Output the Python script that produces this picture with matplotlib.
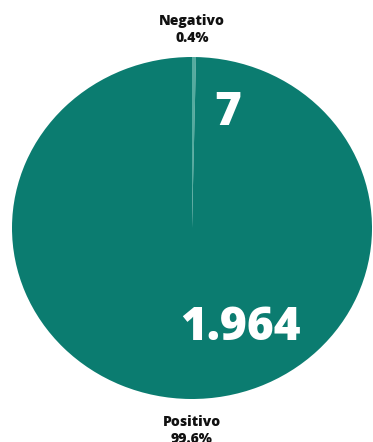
import matplotlib.pyplot as plt

labels = ["Negativo", "Positivo"]
counts = [7, 1964]
count_text = ["7", "1.964"]
colors = ["#55ab9f", "#0b7c70"]

total = sum(counts)
pcts = [c / total * 100 for c in counts]

fig = plt.figure(figsize=(3.73, 4.42), dpi=100)
ax = fig.add_axes([0, 0, 1, 1])

# pie is a bit stretched sideways in the reference: 180 px wide radius, 171 px tall
ax.pie(counts, colors=colors, startangle=90, counterclock=False,
       radius=1, wedgeprops={"linewidth": 0})
ax.set_aspect("auto")
ax.set_xlim(-192 / 180, (373 - 192) / 180)
ax.set_ylim(-(442 - 228) / 171, 228 / 171)
ax.axis("off")

font = "Open Sans"
# category labels outside the pie
ax.text(0, 1.161, "{}\n{}%".format(labels[0], str(round(pcts[0], 1))),
        ha="center", va="center", fontsize=10, fontweight="heavy",
        family=font, color="#111111", linespacing=1.3)
ax.text(0, -1.185, "{}\n{}%".format(labels[1], str(round(pcts[1], 1))),
        ha="center", va="center", fontsize=10, fontweight="heavy",
        family=font, color="#111111", linespacing=1.3)

# big counts inside
ax.text(0.2, 0.67, count_text[0], ha="center", va="center",
        fontsize=33, fontweight="heavy", family=font, color="white")
ax.text(0.272, -0.585, count_text[1], ha="center", va="center",
        fontsize=33, fontweight="heavy", family=font, color="white")

fig.savefig("out.png", dpi=100, facecolor="white")
